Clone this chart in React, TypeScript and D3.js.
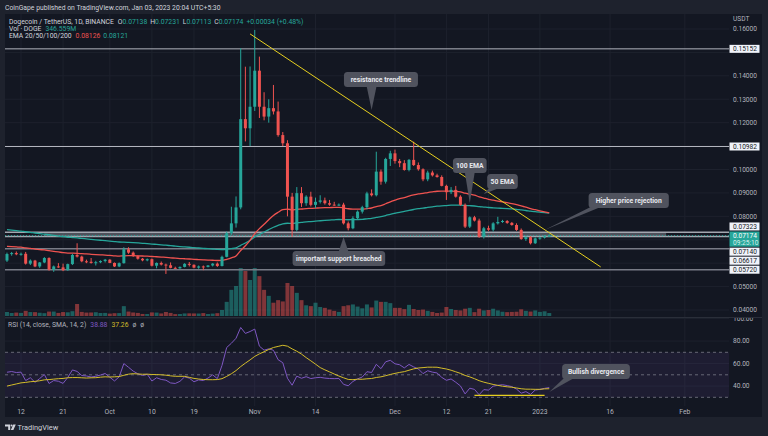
import React from 'react';
import * as d3 from 'd3';

// Dogecoin / TetherUS 1D, Sep 9 2022 - Jan 3 2023
const firstDay = Date.UTC(2022, 8, 9);
const firstOpen = 0.0611;

const closes = [
  0.0639, 0.0643, 0.0638, 0.064, 0.0598, 0.0611, 0.0586, 0.0603, 0.0622, 0.0572, 0.0586, 0.0582, 0.057, 0.0596, 0.0635, 0.0628, 0.0608, 0.0606, 0.0601, 0.0604, 0.0609, 0.0615,
  0.0601, 0.0586, 0.06, 0.0659, 0.0645, 0.063, 0.0619, 0.0612, 0.0617, 0.0589, 0.0601, 0.0594, 0.0591, 0.058, 0.0578, 0.0584, 0.0597, 0.0593, 0.0581, 0.0586, 0.0584, 0.059, 0.0598, 0.0588, 0.0627, 0.0728, 0.077, 0.0838, 0.1215, 0.1176, 0.1268,
  0.1422, 0.1268, 0.1226, 0.1262, 0.1248, 0.1147, 0.1112, 0.0884, 0.0742, 0.0899, 0.0856, 0.0884, 0.0849, 0.0862, 0.0868, 0.0856, 0.085, 0.0848, 0.085, 0.077, 0.0749, 0.0792, 0.082, 0.0839, 0.0898, 0.089, 0.0991, 0.0948, 0.1045, 0.1069,
  0.1036, 0.1027, 0.0998, 0.1041, 0.1019, 0.1001, 0.0958, 0.0987, 0.0975, 0.0968, 0.093, 0.0903, 0.0913, 0.0884, 0.0849, 0.0756, 0.0796, 0.0782, 0.0713, 0.0749, 0.0743, 0.077, 0.0776, 0.078, 0.0772, 0.0763, 0.0742, 0.0703, 0.0711, 0.0685, 0.0706,
  0.0709, 0.0714, 0.07174,
];
const highs = [
  0.0645, 0.0648, 0.065, 0.0645, 0.0648, 0.0616, 0.0614, 0.0605, 0.0626, 0.0625, 0.059, 0.06, 0.0598, 0.0598, 0.064, 0.0685, 0.0632, 0.0615, 0.0622, 0.061, 0.0612, 0.0618,
  0.0617, 0.0603, 0.0603, 0.0668, 0.0668, 0.065, 0.0634, 0.0622, 0.062, 0.062, 0.0603, 0.0607, 0.0598, 0.0603, 0.0585, 0.0586, 0.06, 0.0605, 0.0595, 0.059, 0.059, 0.0592, 0.06, 0.0603, 0.0632, 0.0735, 0.0841, 0.0885, 0.1518, 0.1439, 0.144,
  0.1596, 0.1482, 0.133, 0.13, 0.1361, 0.129, 0.116, 0.1125, 0.09, 0.0925, 0.0925, 0.089, 0.0905, 0.088, 0.089, 0.088, 0.087, 0.0862, 0.0855, 0.0858, 0.0778, 0.08, 0.0825, 0.0845, 0.0905, 0.0915, 0.1076, 0.1, 0.105, 0.108,
  0.1085, 0.1045, 0.104, 0.1045, 0.1119, 0.103, 0.1005, 0.0995, 0.0995, 0.0982, 0.0975, 0.0935, 0.0925, 0.093, 0.089, 0.0855, 0.08, 0.0802, 0.079, 0.0755, 0.076, 0.0775, 0.0798, 0.0785, 0.0784, 0.0776, 0.077, 0.0748, 0.0715, 0.0716, 0.071,
  0.0712, 0.072, 0.07231,
];
const lows = [
  0.0605, 0.0632, 0.0634, 0.0632, 0.0594, 0.0592, 0.0583, 0.058, 0.06, 0.0568, 0.0563, 0.058, 0.0566, 0.0568, 0.0592, 0.0624, 0.0604, 0.06, 0.0598, 0.059, 0.06, 0.0603,
  0.06, 0.0584, 0.0583, 0.0598, 0.064, 0.0627, 0.0615, 0.0608, 0.0608, 0.0586, 0.0578, 0.059, 0.0554, 0.0578, 0.0576, 0.0576, 0.0582, 0.0586, 0.0578, 0.0576, 0.057, 0.0582, 0.0586, 0.0584, 0.0586, 0.0625, 0.072, 0.0752, 0.083, 0.112, 0.11,
  0.125, 0.122, 0.121, 0.12, 0.1235, 0.114, 0.11, 0.08, 0.0713, 0.0735, 0.084, 0.0845, 0.0842, 0.0835, 0.0855, 0.085, 0.0845, 0.0845, 0.0845, 0.0765, 0.074, 0.0745, 0.0788, 0.0812, 0.083, 0.0885, 0.0885, 0.0935, 0.094, 0.1015,
  0.1025, 0.101, 0.0995, 0.0992, 0.1015, 0.0995, 0.095, 0.095, 0.097, 0.0965, 0.0928, 0.087, 0.0895, 0.088, 0.0845, 0.075, 0.075, 0.0778, 0.0708, 0.0705, 0.0738, 0.0735, 0.0765, 0.0772, 0.0768, 0.076, 0.0738, 0.07, 0.0695, 0.068, 0.0682,
  0.07, 0.0705, 0.07113,
];
// volume, millions of DOGE
const volumes = [
  470, 350, 400, 360, 600, 460, 450, 380, 330, 520, 520, 360, 460, 430, 560, 1400, 480, 400, 410, 440, 350, 360,
  280, 330, 340, 1150, 520, 410, 360, 240, 230, 420, 400, 300, 470, 360, 220, 230, 300, 310, 300, 290, 340, 230, 280, 330, 700, 1650, 3050, 3500, 5600, 5250, 4200,
  5600, 4650, 3050, 2350, 1550, 1850, 1700, 3850, 3500, 2700, 1850, 1250, 1150, 1550, 1050, 950, 750, 600, 480, 1150, 1250, 1350, 1100, 900, 1350, 1000, 1800, 1650, 1650, 1500,
  950, 950, 800, 1300, 820, 700, 750, 600, 480, 350, 400, 1050, 820, 700, 650, 850, 950, 450, 850, 650, 700, 850, 650, 500, 450, 480, 500, 780, 600, 520, 650,
  480, 550, 347,
];

// indicator starting values read at the left edge
const ema50Seed = 0.0673;
const ema100Seed = 0.0745;
const rsiSeedGain = 0.0011;
const rsiSeedLoss = 0.0012;
const rsiSmaSeed = 39;

const levels = [0.15152, 0.10982, 0.07323, 0.0714, 0.06617, 0.0572];
const lastPrice = 0.07174;
const priceTicks = [0.04, 0.05, 0.06, 0.07, 0.08, 0.09, 0.1, 0.11, 0.12, 0.13, 0.14, 0.15, 0.16];
const rsiTicks = [100, 80, 60, 40];
const timeTicks = ['2022-09-12', '2022-09-21', '2022-10-01', '2022-10-10', '2022-10-19', '2022-11-01', '2022-11-14', '2022-12-01', '2022-12-12', '2022-12-21', '2023-01-01', '2023-01-16', '2023-02-01'];
const timeLabels = ['12', '21', 'Oct', '10', '19', 'Nov', '14', 'Dec', '12', '21', '2023', '16', 'Feb'];

const trendline: [string, number][] = [['2022-10-31', 0.1579], ['2023-01-14', 0.0584]];
const supportBand: [string, string] = ['2022-09-17', '2023-01-28'];
const divergence: [string, string, number] = ['2022-12-18', '2023-01-02', 31.7];

const priceNotes = [
  { text: 'resistance trendline', at: ['2022-11-28', 0.1384], tip: ['2022-11-26', 0.1254] },
  { text: '100 EMA', at: ['2022-12-17', 0.1017], tip: ['2022-12-17', 0.0857] },
  { text: '50 EMA', at: ['2022-12-24', 0.0949], tip: ['2022-12-20', 0.0895] },
  { text: 'Higher price rejection', at: ['2023-01-20', 0.0868], tip: ['2023-01-02', 0.0742] },
  { text: 'important support breached', at: ['2022-11-19', 0.062], tip: ['2022-11-20', 0.0712] },
];
const rsiNotes = [{ text: 'Bullish divergence', at: ['2023-01-13', 52.9], tip: ['2023-01-03', 34.7] }];

const UP = '#26a69a';
const DOWN = '#ef5350';
const BG = '#131722';
const FRAME = '#1e222d';
const GRID = '#1d212d';
const TXT = '#b2b5be';
const FONT = 'Roboto, "Noto Sans", sans-serif';

const W = 768;
const H = 436;
const L = 5;
const PR = 729;
const R = 762;
const TOP = 14;
const MAIN_B = 317;
const RSI_T = 318;
const RSI_B = 406;
const AX_B = 417;

const day = (s: string) => new Date(s + 'T00:00:00Z');

const App = () => {
  const dates = closes.map((_, i) => new Date(firstDay + i * 86400000));
  const opens = [firstOpen, ...closes.slice(0, -1)];
  opens[opens.length - 1] = 0.07138;

  const x = d3.scaleUtc().domain([day('2022-09-12'), day('2023-01-01')]).range([21, 539.9]);
  const y = d3.scaleLinear().domain([0.04, 0.16]).range([310, 29]);
  const yVol = d3.scaleLinear().domain([0, 5600]).range([316, 268]);
  const yRsi = d3.scaleLinear().domain([30, 70]).range([397.3, 352.3]);

  const ema = (seed: number, n: number) => {
    const a = 2 / (n + 1);
    let v = seed;
    return closes.map((c) => (v = a * c + (1 - a) * v));
  };
  const ema50 = ema(ema50Seed, 50);
  const ema100 = ema(ema100Seed, 100);

  let ag = rsiSeedGain;
  let al = rsiSeedLoss;
  const rsi = closes.map((c, i) => {
    const ch = c - (i === 0 ? firstOpen : closes[i - 1]);
    ag = (ag * 13 + Math.max(ch, 0)) / 14;
    al = (al * 13 + Math.max(-ch, 0)) / 14;
    return 100 - 100 / (1 + ag / al);
  });
  const rsiSma = rsi.map((_, i) => {
    const win: number[] = [];
    for (let k = i - 13; k <= i; k++) win.push(k < 0 ? rsiSmaSeed : rsi[k]);
    return d3.mean(win) as number;
  });

  const line = d3.line<number>().x((_, i) => x(dates[i])).y((d) => y(d)).curve(d3.curveMonotoneX);
  const rsiLine = d3.line<number>().x((_, i) => x(dates[i])).y((d) => yRsi(d));

  // right-axis level labels, pushed apart around the live price box
  const boxH = 8;
  const live = { top: y(lastPrice) - 4.2, bottom: y(lastPrice) + 11 };
  const above = levels.filter((p) => p > lastPrice).sort((a, b) => a - b);
  const below = levels.filter((p) => p < lastPrice).sort((a, b) => b - a);
  const tags: { p: number; cy: number }[] = [];
  let lim = live.top - 1;
  above.forEach((p) => {
    const cy = Math.min(y(p), lim - boxH / 2);
    tags.push({ p, cy });
    lim = cy - boxH / 2 - 1;
  });
  lim = live.bottom + 1;
  below.forEach((p) => {
    const cy = Math.max(y(p), lim + boxH / 2);
    tags.push({ p, cy });
    lim = cy + boxH / 2 + 1;
  });
  // plain ticks hidden behind the tags
  const shownTicks = priceTicks.filter((p) => {
    const py = y(p);
    if (py > live.top - 4 && py < live.bottom + 4) return false;
    return !tags.some((t) => Math.abs(t.cy - py) < boxH);
  });

  const callout = (n: { text: string; at: any[]; tip: any[] }, sy: (v: number) => number, key: string) => {
    const cx = x(day(n.at[0]));
    const cy = sy(n.at[1]);
    const tx = x(day(n.tip[0]));
    const ty = sy(n.tip[1]);
    const w = n.text.length * 3.1 + 12;
    const h = 15;
    const l = cx - w / 2;
    const t = cy - h / 2;
    const bx = Math.max(l + 7, Math.min(l + w - 7, tx));
    const by = ty > t + h ? t + h - 1 : t + 1;
    return (
      <g key={key}>
        <path d={`M${bx - 5},${by}L${tx},${ty}L${bx + 5},${by}Z`} fill="#50535e" />
        <rect x={l} y={t} width={w} height={h} rx={3.5} fill="#50535e" />
        <text x={cx} y={cy + 2.5} textAnchor="middle" fontSize={6.8} fontWeight="bold" fill="#e8e9ee">{n.text}</text>
      </g>
    );
  };

  const bw = 3;

  return (
    <div style={{ position: 'fixed', left: 0, top: 0 }}>
      <svg width={W} height={H} style={{ display: 'block', fontFamily: FONT }}>
        <defs>
          <clipPath id="mainClip"><rect x={L} y={TOP} width={PR - L} height={MAIN_B - TOP} /></clipPath>
          <clipPath id="rsiClip"><rect x={L} y={RSI_T} width={PR - L} height={RSI_B - RSI_T} /></clipPath>
          <clipPath id="rsiAxClip"><rect x={PR} y={RSI_T} width={R - PR} height={RSI_B - RSI_T} /></clipPath>
        </defs>
        <rect width={W} height={H} fill={FRAME} />
        <rect x={L} y={TOP} width={R - L} height={AX_B - TOP} fill={BG} />

        <text x={5} y={9.6} fontSize={6.8} fill="#d1d4dc">CoinGape published on TradingView.com, Jan 03, 2023 20:04 UTC+5:30</text>

        {/* grid */}
        {priceTicks.map((p) => (
          <line key={'hg' + p} x1={L} x2={PR} y1={y(p)} y2={y(p)} stroke={GRID} />
        ))}
        {rsiTicks.map((r) => (
          <line key={'rg' + r} x1={L} x2={PR} y1={yRsi(r)} y2={yRsi(r)} stroke={GRID} clipPath="url(#rsiClip)" />
        ))}
        {timeTicks.map((t) => (
          <line key={'vg' + t} x1={x(day(t))} x2={x(day(t))} y1={TOP} y2={RSI_B} stroke={GRID} />
        ))}

        <g clipPath="url(#mainClip)">
          {/* volume */}
          {volumes.map((v, i) => (
            <rect key={'v' + i} x={x(dates[i]) - 2} width={4} y={yVol(v)} height={yVol(0) - yVol(v)}
              fill={closes[i] >= opens[i] ? UP : DOWN} opacity={0.5} />
          ))}

          {/* support band and levels */}
          <rect x={x(day(supportBand[0]))} width={x(day(supportBand[1])) - x(day(supportBand[0]))}
            y={y(levels[2])} height={y(levels[3]) - y(levels[2])} fill="#9598a1" opacity={0.45} />
          {levels.map((p, i) => (
            <line key={'lv' + p} x1={L} x2={PR} y1={y(p)} y2={y(p)}
              stroke={i < 2 ? '#b2b5be' : i < 4 ? '#a3a6af' : '#787b86'} strokeWidth={i < 2 ? 1 : 1.6} />
          ))}
          <line x1={L} x2={PR} y1={y(lastPrice)} y2={y(lastPrice)} stroke={UP} strokeDasharray="1,2" />

          {/* EMAs */}
          <path d={line(ema100) || ''} fill="none" stroke="#26a69a" strokeWidth={1.3} />
          <path d={line(ema50) || ''} fill="none" stroke="#ef5350" strokeWidth={1.3} />

          {/* candles */}
          {closes.map((c, i) => {
            const o = opens[i];
            const col = c >= o ? UP : DOWN;
            const cx = x(dates[i]);
            const top = y(Math.max(o, c));
            const hgt = Math.max(1, Math.abs(y(o) - y(c)));
            return (
              <g key={'c' + i}>
                <line x1={cx} x2={cx} y1={y(highs[i])} y2={y(lows[i])} stroke={col} strokeWidth={1} />
                <rect x={cx - bw / 2} y={top} width={bw} height={hgt} fill={col} />
              </g>
            );
          })}

          {/* resistance trendline */}
          <line x1={x(day(trendline[0][0]))} y1={y(trendline[0][1])} x2={x(day(trendline[1][0]))} y2={y(trendline[1][1])}
            stroke="#e6cf1f" strokeWidth={1} />

          {priceNotes.map((n, i) => callout(n, y, 'pn' + i))}
        </g>

        {/* legend */}
        <text x={9} y={23.6} fontSize={6.8} fill="#d1d4dc">
          <tspan>Dogecoin / TetherUS, 1D, BINANCE</tspan>
          <tspan dx={4}>O</tspan><tspan fill={UP}>0.07138</tspan>
          <tspan dx={3}>H</tspan><tspan fill={UP}>0.07231</tspan>
          <tspan dx={3}>L</tspan><tspan fill={UP}>0.07113</tspan>
          <tspan dx={3}>C</tspan><tspan fill={UP}>0.07174</tspan>
          <tspan dx={3} fill={UP}>+0.00034 (+0.48%)</tspan>
        </text>
        <text x={9} y={31} fontSize={6.8} fill="#d1d4dc">
          <tspan>Vol · DOGE</tspan><tspan dx={4} fill={UP}>346.559M</tspan>
        </text>
        <text x={9} y={38.4} fontSize={6.8} fill="#d1d4dc">
          <tspan>EMA 20/50/100/200</tspan><tspan dx={4} fill={DOWN}>0.08126</tspan><tspan dx={3} fill={UP}>0.08121</tspan>
        </text>

        {/* pane separator */}
        <line x1={L} x2={R} y1={317.5} y2={317.5} stroke="#2a2e39" />

        {/* RSI pane */}
        <g clipPath="url(#rsiClip)">
          <rect x={L} width={PR - L} y={yRsi(70)} height={yRsi(30) - yRsi(70)} fill="#7e57c2" opacity={0.1} />
          {[70, 50, 30].map((r) => (
            <line key={'rb' + r} x1={L} x2={PR} y1={yRsi(r)} y2={yRsi(r)} stroke="#787b86" strokeDasharray="3,3" opacity={0.8} />
          ))}
          <path d={rsiLine(rsi) || ''} fill="none" stroke="#7e57c2" strokeWidth={1} />
          <path d={rsiLine(rsiSma) || ''} fill="none" stroke="#d4bd2a" strokeWidth={1} />
          <line x1={x(day(divergence[0]))} x2={x(day(divergence[1]))} y1={yRsi(divergence[2])} y2={yRsi(divergence[2])}
            stroke="#e6cf1f" strokeWidth={1.2} />
          {rsiNotes.map((n, i) => callout(n, yRsi, 'rn' + i))}
        </g>
        <text x={8} y={327.4} fontSize={6.8} fill={TXT}>
          <tspan>RSI (14, close, SMA, 14, 2)</tspan>
          <tspan dx={4} fill="#7e57c2">38.88</tspan>
          <tspan dx={4} fill="#d4bd2a">37.26</tspan>
          <tspan dx={4}>ø</tspan>
          <tspan dx={4}>ø</tspan>
        </text>

        {/* price axis */}
        <text x={733} y={21.4} fontSize={6.6} fill={TXT}>USDT</text>
        {shownTicks.map((p) => (
          <text key={'pt' + p} x={733} y={y(p) + 2.4} fontSize={6.6} fill={TXT}>{d3.format('.5f')(p)}</text>
        ))}
        {tags.map((t) => (
          <g key={'tg' + t.p}>
            <rect x={729.5} y={t.cy - boxH / 2} width={30} height={boxH} fill="#f0f3fa" />
            <text x={733} y={t.cy + 2.4} fontSize={6.6} fill="#131722">{d3.format('.5f')(t.p)}</text>
          </g>
        ))}
        <rect x={729.5} y={live.top} width={30} height={live.bottom - live.top} fill={UP} />
        <text x={733} y={y(lastPrice) + 2.4} fontSize={6.6} fill="#fff">{d3.format('.5f')(lastPrice)}</text>
        <text x={733} y={y(lastPrice) + 9.6} fontSize={6.6} fill="#d8f0ec">09:25:10</text>

        {/* rsi axis */}
        <g clipPath="url(#rsiAxClip)">
          {rsiTicks.map((r) => (
            <text key={'ra' + r} x={733} y={yRsi(r) + 2.4} fontSize={6.6} fill={TXT}>{d3.format('.2f')(r)}</text>
          ))}
        </g>

        {/* time axis */}
        {timeTicks.map((t, i) => (
          <text key={'tt' + t} x={x(day(t))} y={414} textAnchor="middle" fontSize={6.8} fill={TXT}>{timeLabels[i]}</text>
        ))}

        {/* footer */}
        <g fill="#d1d4dc">
          <path d="M5,424.5h5.2v5.5h-2v-3.6h-3.2z" />
          <circle cx={11.6} cy={425.4} r={1} />
          <path d="M13.2,424.5h2.6l-2.4,5.5h-2.6z" />
          <text x={17.5} y={429.6} fontSize={7.4}>TradingView</text>
        </g>
      </svg>
    </div>
  );
};

export default App;
